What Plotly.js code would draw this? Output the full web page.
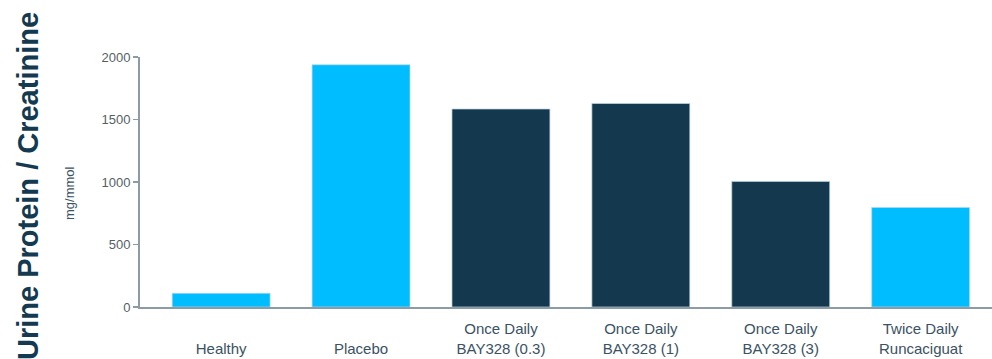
<!DOCTYPE html>
<html>
<head>
<meta charset="utf-8">
<script src="https://cdn.plot.ly/plotly-3.0.1.min.js"></script>
<style>html,body{margin:0;padding:0;background:#fff;}#chart{width:992px;height:359px;}</style>
</head>
<body>
<div id="chart"></div>
<script>
const categories = [" <br>Healthy", " <br>Placebo", "Once Daily<br>BAY328 (0.3)", "Once Daily<br>BAY328 (1)", "Once Daily<br>BAY328 (3)", "Twice Daily<br>Runcaciguat"];
const values = [110, 1938, 1584, 1628, 1005, 797];
const barColors = ["#00BDFF", "#00BDFF", "#14394F", "#14394F", "#14394F", "#00BDFF"];
const yTickVals = [0, 500, 1000, 1500, 2000];
const yTickText = ["0", "500", "1000", "1500", "2000"];
const titleText = "Urine Protein / Creatinine";
const unitText = "mg/mmol";

const trace = {
  type: "bar",
  x: categories,
  y: values,
  marker: {color: barColors, line: {color: "rgba(190,215,230,0.7)", width: 1}},
  hoverinfo: "none"
};

const layout = {
  width: 992, height: 359,
  margin: {l: 140, r: 0, t: 57, b: 52},
  paper_bgcolor: "#fff", plot_bgcolor: "#fff",
  showlegend: false,
  bargap: 0.3,
  font: {family: "Liberation Sans, Arial, sans-serif"},
  xaxis: {
    type: "category",
    range: [-0.58, 5.51],
    showline: true, linecolor: "#8C9BA6", linewidth: 2,
    ticks: "", showgrid: false, zeroline: false,
    tickfont: {size: 15, color: "#3A5264"},
    ticklabelstandoff: 7
  },
  yaxis: {
    range: [0, 2000],
    showline: true, linecolor: "#8C9BA6", linewidth: 2,
    ticks: "outside", ticklen: 5, tickwidth: 1.5, tickcolor: "#8C9BA6",
    tickvals: yTickVals, ticktext: yTickText,
    showgrid: false, zeroline: false,
    tickfont: {size: 13, color: "#555F66"}
  },
  annotations: [
    {text: "<b>" + titleText + "</b>", xref: "paper", yref: "paper", x: 0, y: 0.5, xanchor: "center", yanchor: "middle",
     xshift: -112, yshift: -4, textangle: -90, showarrow: false, font: {size: 29, color: "#133A50", family: "Liberation Sans, Arial, sans-serif"}},
    {text: unitText, xref: "paper", yref: "paper", x: 0, y: 0.5, xanchor: "center", yanchor: "middle",
     xshift: -71, yshift: -11, textangle: -90, showarrow: false, font: {size: 13, color: "#3A5264", family: "Liberation Sans, Arial, sans-serif"}}
  ]
};

Plotly.newPlot("chart", [trace], layout, {displayModeBar: false, staticPlot: true});
</script>
</body>
</html>
